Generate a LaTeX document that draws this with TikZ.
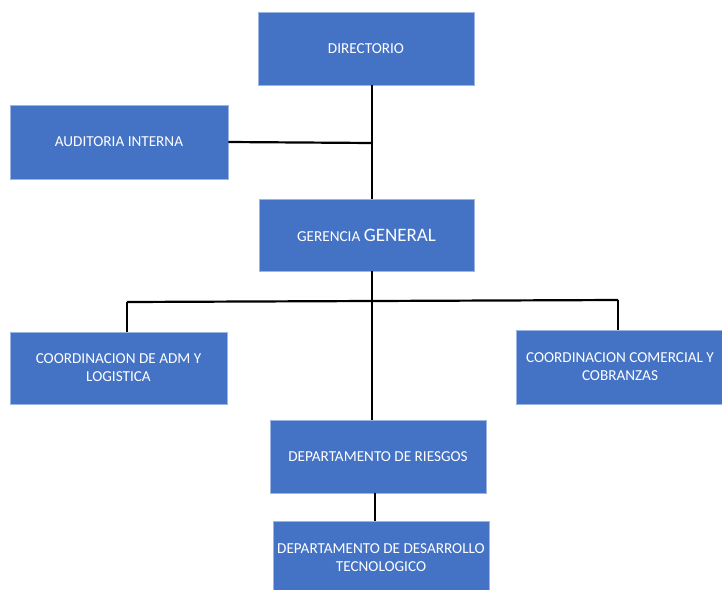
\documentclass[tikz,border=0pt]{standalone}
\usepackage{fontspec}
\setmainfont{Carlito}
\definecolor{boxfill}{HTML}{4472C4}
\definecolor{boxline}{HTML}{9DB5E3}
\begin{document}
\begin{tikzpicture}[x=1pt,y=-1pt,
  orgbox/.style={rectangle, fill=boxfill, draw=boxline, line width=0.6pt,
    text=white, align=center, font=\fontsize{15.2}{18}\selectfont,
    minimum width=216pt, minimum height=73pt, inner sep=2pt},
  conn/.style={draw=black, line width=2.2pt}]
\useasboundingbox (0,0) rectangle (722,589);
\clip (0,0) rectangle (722,589);
\node[orgbox] (dir) at (366,48.5) {DIRECTORIO};
\node[orgbox, minimum width=218pt, minimum height=74pt] (aud) at (119,142) {AUDITORIA INTERNA};
\node[orgbox, minimum width=215pt, minimum height=72pt] (ger) at (366.5,235) {GERENCIA {\fontsize{19}{20}\selectfont GENERAL}};
\node[orgbox, minimum width=217pt, minimum height=72pt] (adm) at (118.5,368) {COORDINACION DE ADM Y\\LOGISTICA};
\node[orgbox, minimum width=208pt, minimum height=74pt] (com) at (620,367) {COORDINACION COMERCIAL Y\\COBRANZAS};
\node[orgbox, minimum width=216pt, minimum height=73pt] (rie) at (378,456.5) {DEPARTAMENTO DE RIESGOS};
\node[orgbox, minimum width=216pt, minimum height=74pt] (des) at (381,558) {DEPARTAMENTO DE DESARROLLO\\TECNOLOGICO};
\coordinate (jA) at (372,143);
\coordinate (jB) at (372,301);
\coordinate (jL) at (127,302);
\coordinate (jR) at (618,300);
\draw[conn] ([xshift=6pt]dir.south) -- ([xshift=5.5pt]ger.north);
\draw[conn] (aud.east) -- (jA);
\draw[conn] ([xshift=5.5pt]ger.south) -- ([xshift=-6pt]rie.north);
\draw[conn] (jL) -- (jR);
\draw[conn] (jL) -- (jL |- adm.north);
\draw[conn] (jR) -- (jR |- com.north);
\draw[conn] ([xshift=-3pt]rie.south) -- ([xshift=-6pt]des.north);
\end{tikzpicture}
\end{document}
